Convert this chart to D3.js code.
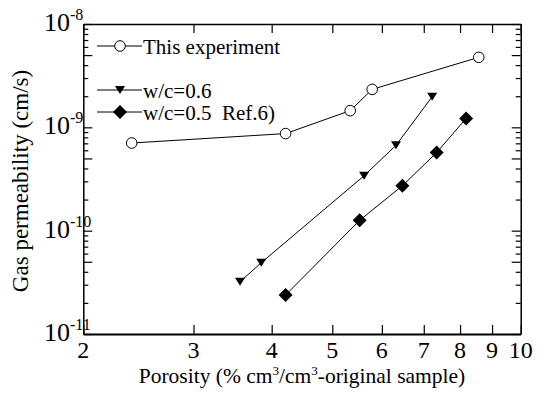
<!DOCTYPE html>
<html>
<head>
<meta charset="utf-8">
<script src="https://cdn.jsdelivr.net/npm/d3@7"></script>
<style>
  html, body { margin: 0; padding: 0; background: #fff; }
  svg { display: block; }
  text { font-family: "Liberation Serif", "Times New Roman", serif; fill: #000; white-space: pre; }
</style>
</head>
<body>
<svg id="chart" width="544" height="396"></svg>
<script>
// Porosity (%) and gas permeability (cm/s) for each series
const expPorosity   = [2.39, 4.21, 5.34, 5.79, 8.57];
const expPerm       = [7.05e-10, 8.7e-10, 1.45e-9, 2.33e-9, 4.76e-9];
const wc06Porosity  = [3.56, 3.85, 5.62, 6.32, 7.22];
const wc06Perm      = [3.2e-11, 4.9e-11, 3.4e-10, 6.7e-10, 1.98e-9];
const wc05Porosity  = [4.21, 5.53, 6.47, 7.34, 8.18];
const wc05Perm      = [2.38e-11, 1.26e-10, 2.72e-10, 5.7e-10, 1.22e-9];

const seriesNames   = ["This experiment", "w/c=0.6", "w/c=0.5\u00a0\u00a0Ref.6)"];
const xTickValues   = [2, 3, 4, 5, 6, 7, 8, 9, 10];
const yDecadeExps   = [-11, -10, -9, -8];
const xTitle        = "Porosity (% cm";
const yTitle        = "Gas permeability (cm/s)";

const svg = d3.select("#chart");
const L = 83.3, R = 520.7, T = 24, B = 334;

const x = d3.scaleLog().domain([2, 10]).range([L, R]);
const y = d3.scaleLog().domain([1e-11, 1e-8]).range([B, T]);

// y tick values: decades plus 2..9 multiples inside each decade
const yMajor = yDecadeExps.map(e => Math.pow(10, e));
const yMinor = [], yMid = [];
yDecadeExps.slice(0, -1).forEach(e => {
  for (let m = 2; m <= 9; m++) {
    const v = m * Math.pow(10, e);
    (m === 5 ? yMid : yMinor).push(v);
  }
});

const axisG = svg.append("g");
function styleAxis(g) {
  g.selectAll("text").remove();
  g.selectAll("path.domain").attr("stroke", "#000").attr("stroke-width", 1.5);
  g.selectAll("line").attr("stroke", "#000").attr("stroke-width", 1.2);
}

// x axes (bottom & top), ticks pointing inward
axisG.append("g").attr("transform", `translate(0,${B})`)
  .call(d3.axisBottom(x).tickValues(xTickValues).tickSizeInner(-9).tickSizeOuter(0))
  .call(styleAxis)
  .call(g => g.select("path.domain").attr("stroke-width", 2));
axisG.append("g").attr("transform", `translate(0,${T})`)
  .call(d3.axisTop(x).tickValues(xTickValues).tickSizeInner(-9).tickSizeOuter(0))
  .call(styleAxis);

// y axes (left & right): major, mid (x5) and minor ticks
[[d3.axisLeft, L], [d3.axisRight, R]].forEach(([fn, pos]) => {
  axisG.append("g").attr("transform", `translate(${pos},0)`)
    .call(fn(y).tickValues(yMajor.concat(yMid)).tickSizeInner(-9).tickSizeOuter(0))
    .call(styleAxis);
  axisG.append("g").attr("transform", `translate(${pos},0)`)
    .call(fn(y).tickValues(yMinor).tickSizeInner(-5).tickSizeOuter(0))
    .call(styleAxis)
    .call(g => g.select("path.domain").remove());
});

// x tick labels
svg.append("g").selectAll("text").data(xTickValues).join("text")
  .attr("x", d => x(d)).attr("y", 358)
  .attr("text-anchor", "middle").attr("font-size", 24)
  .text(d => d);

// y tick labels as powers of ten
const yl = svg.append("g").selectAll("text").data(yDecadeExps).join("text")
  .attr("x", 44).attr("y", d => y(Math.pow(10, d)) + 7)
  .attr("font-size", 26);
yl.append("tspan").text("10");
yl.append("tspan").attr("font-size", 16).attr("dy", -11).text(d => "-" + Math.abs(d));

// axis titles
const xt = svg.append("text").attr("x", (L + R) / 2).attr("y", 383)
  .attr("text-anchor", "middle").attr("font-size", 21.5);
xt.append("tspan").text(xTitle);
xt.append("tspan").attr("font-size", 13).attr("dy", -8).text("3");
xt.append("tspan").attr("dy", 8).text("/cm");
xt.append("tspan").attr("font-size", 13).attr("dy", -8).text("3");
xt.append("tspan").attr("dy", 8).text("-original sample)");

svg.append("text")
  .attr("transform", `translate(28,${(T + B) / 2 + 2}) rotate(-90)`)
  .attr("text-anchor", "middle").attr("font-size", 23)
  .text(yTitle);

// marker shapes
const markers = {
  circle: g => g.append("circle").attr("r", 5.3).attr("fill", "#fff").attr("stroke", "#000").attr("stroke-width", 1),
  tri: g => g.append("path").attr("d", "M-5,-4L5,-4L0,4Z").attr("fill", "#000"),
  diamond: g => g.append("path").attr("d", "M0,-7L7,0L0,7L-7,0Z").attr("fill", "#000")
};

const series = [
  { xs: expPorosity,  ys: expPerm,  m: "circle" },
  { xs: wc06Porosity, ys: wc06Perm, m: "tri" },
  { xs: wc05Porosity, ys: wc05Perm, m: "diamond" }
];

const line = d3.line().x(d => x(d[0])).y(d => y(d[1]));
const plot = svg.append("g");
series.forEach(s => {
  const pts = s.xs.map((v, i) => [v, s.ys[i]]);
  plot.append("path").attr("d", line(pts))
    .attr("fill", "none").attr("stroke", "#000").attr("stroke-width", 1);
  pts.forEach(p => {
    const g = plot.append("g").attr("transform", `translate(${x(p[0])},${y(p[1])})`);
    markers[s.m](g);
  });
});

// legend
const legendY = [46, 90, 112];
const legend = svg.append("g");
series.forEach((s, i) => {
  const g = legend.append("g").attr("transform", `translate(0,${legendY[i]})`);
  g.append("line").attr("x1", 97).attr("x2", 142).attr("stroke", "#000").attr("stroke-width", 1);
  markers[s.m](g.append("g").attr("transform", "translate(120,0)"));
  g.append("text").attr("x", 143).attr("y", 8).attr("font-size", 21).text(seriesNames[i]);
});
</script>
</body>
</html>
